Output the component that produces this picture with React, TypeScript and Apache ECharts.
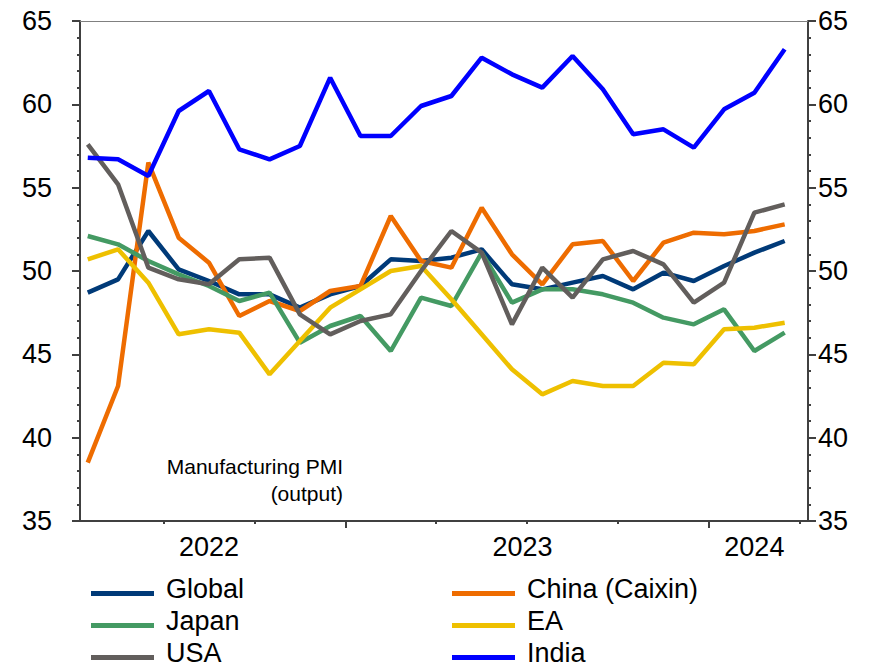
import React, { useEffect, useRef } from "react";
import * as echarts from "echarts";

// Months Apr 2022 .. Mar 2024
const months = [
  "Apr-22", "May-22", "Jun-22", "Jul-22", "Aug-22", "Sep-22", "Oct-22", "Nov-22", "Dec-22",
  "Jan-23", "Feb-23", "Mar-23", "Apr-23", "May-23", "Jun-23", "Jul-23", "Aug-23", "Sep-23",
  "Oct-23", "Nov-23", "Dec-23", "Jan-24", "Feb-24", "Mar-24",
];

const globalPMI = [48.7, 49.5, 52.4, 50.1, 49.4, 48.6, 48.6, 47.8, 48.6, 49.1, 50.7, 50.6, 50.8, 51.3, 49.2, 48.9, 49.3, 49.7, 48.9, 49.9, 49.4, 50.3, 51.1, 51.8];
const chinaPMI = [38.5, 43.1, 56.5, 52.0, 50.5, 47.3, 48.2, 47.6, 48.8, 49.1, 53.3, 50.6, 50.2, 53.8, 51.0, 49.2, 51.6, 51.8, 49.4, 51.7, 52.3, 52.2, 52.4, 52.8];
const japanPMI = [52.1, 51.6, 50.6, 49.8, 49.1, 48.2, 48.7, 45.7, 46.7, 47.3, 45.2, 48.4, 47.9, 51.1, 48.1, 48.9, 48.9, 48.6, 48.1, 47.2, 46.8, 47.7, 45.2, 46.3];
const eaPMI = [50.7, 51.3, 49.3, 46.2, 46.5, 46.3, 43.8, 45.8, 47.8, 48.9, 50.0, 50.3, 48.3, 46.2, 44.1, 42.6, 43.4, 43.1, 43.1, 44.5, 44.4, 46.5, 46.6, 46.9];
const usaPMI = [57.6, 55.2, 50.2, 49.5, 49.2, 50.7, 50.8, 47.4, 46.2, 47.0, 47.4, 50.0, 52.4, 51.1, 46.8, 50.2, 48.4, 50.7, 51.2, 50.4, 48.1, 49.3, 53.5, 54.0];
const indiaPMI = [56.8, 56.7, 55.7, 59.6, 60.8, 57.3, 56.7, 57.5, 61.6, 58.1, 58.1, 59.9, 60.5, 62.8, 61.8, 61.0, 62.9, 60.9, 58.2, 58.5, 57.4, 59.7, 60.7, 63.3];

const seriesNames = ["Global", "China (Caixin)", "Japan", "EA", "USA", "India"];
const seriesColors = ["#003a78", "#ee6c00", "#449a63", "#eec000", "#625e5c", "#0000ff"];
const seriesValues = [globalPMI, chinaPMI, japanPMI, eaPMI, usaPMI, indiaPMI];

// x axis: months counted from start of Apr 2022; tick marks at quarter boundaries
const quarterTicks = [3, 6, 12, 15, 18, 24];
const yearTicks = [9, 21];
const yearLabelPos = [4.5, 14.85, 22.5];
const yearLabels = ["2022", "2023", "2024"];

const yTickMin = 35;
const yTickMax = 65;
const yTickStep = 5;

const annotationLines = ["Manufacturing PMI", "(output)"];

const FONT = "'Liberation Sans', Arial, sans-serif";
const AXIS_COLOR = "#404040";

// legend swatch: a bar drawn 5px below the text middle (tiny invisible anchor at top-left)
const LEGEND_ICON = "path://M0,0 L0.01,0 L0.01,0.01 Z M0,10 L63,10 L63,15 L0,15 Z";

export default function App() {
  const ref = useRef<HTMLDivElement>(null);

  useEffect(() => {
    if (!ref.current) return;
    const chart = echarts.init(ref.current, undefined, { renderer: "svg" });
    const X_MIN = 0.244;
    const X_MAX = 24.27;

    const baseX = {
      type: "value",
      min: X_MIN,
      max: X_MAX,
      splitLine: { show: false },
    };

    const yAxisBase = (pos: string, margin: number) => ({
      type: "value",
      position: pos,
      min: yTickMin,
      max: yTickMax,
      interval: yTickStep,
      axisLine: { show: true, onZero: false, lineStyle: { color: AXIS_COLOR, width: 2 } },
      axisTick: { show: true, length: 8, lineStyle: { color: AXIS_COLOR, width: 2 } },
      minorTick: { show: true, splitNumber: 5, length: 3, lineStyle: { color: AXIS_COLOR, width: 2 } },
      axisLabel: { fontSize: 27, color: "#000", fontFamily: FONT, margin },
      splitLine: { show: false },
      minorSplitLine: { show: false },
    });

    // legend: two columns, three rows (swatch centre y given)
    const legendCols = [91, 452];
    const legendRows = [595, 627, 659];
    const legends = seriesNames.map((name, s) => ({
      data: [name],
      orient: "horizontal",
      left: legendCols[s % 2],
      top: legendRows[Math.floor(s / 2)] - 20,
      padding: 0,
      itemWidth: 63,
      itemHeight: 15,
      icon: LEGEND_ICON,
      itemStyle: { borderWidth: 0 },
      textStyle: { fontSize: 27, color: "#000", fontFamily: FONT, padding: [0, 0, 0, 7] },
    }));

    const option: any = {
      animation: false,
      grid: { left: 80, right: 67, top: 21, bottom: 146, containLabel: false },
      xAxis: [
        {
          ...baseX,
          position: "bottom",
          axisLine: { show: true, onZero: false, lineStyle: { color: AXIS_COLOR, width: 2 } },
          axisTick: { show: true, customValues: quarterTicks, length: 3, lineStyle: { color: AXIS_COLOR, width: 2 } },
          axisLabel: {
            show: true,
            customValues: yearLabelPos,
            fontSize: 27,
            color: "#000",
            fontFamily: FONT,
            margin: 12,
            formatter: (v: number) => {
              let best = 0;
              yearLabelPos.forEach((p, i) => {
                if (Math.abs(p - v) < Math.abs(yearLabelPos[best] - v)) best = i;
              });
              return yearLabels[best];
            },
          },
        },
        {
          ...baseX,
          position: "bottom",
          axisLine: { show: false },
          axisTick: { show: true, customValues: yearTicks, length: 7, lineStyle: { color: AXIS_COLOR, width: 2 } },
          axisLabel: { show: false },
        },
        {
          ...baseX,
          position: "top",
          axisLine: { show: true, onZero: false, lineStyle: { color: "#808080", width: 1 } },
          axisTick: { show: false },
          axisLabel: { show: false },
        },
      ],
      yAxis: [yAxisBase("left", 28), yAxisBase("right", 10)],
      legend: legends,
      graphic: [
        {
          type: "text",
          x: 343,
          y: 466,
          style: { text: annotationLines[0], align: "right", verticalAlign: "middle", fontSize: 21, fontFamily: FONT, fill: "#000" },
        },
        {
          type: "text",
          x: 343,
          y: 493,
          style: { text: annotationLines[1], align: "right", verticalAlign: "middle", fontSize: 21, fontFamily: FONT, fill: "#000" },
        },
      ],
      series: seriesNames.map((name, s) => ({
        name,
        type: "line",
        xAxisIndex: 0,
        yAxisIndex: 0,
        symbol: "none",
        color: seriesColors[s],
        lineStyle: { width: 4.5, color: seriesColors[s] },
        data: seriesValues[s].map((v, i) => [i + 0.5, v]),
      })),
    };
    chart.setOption(option);
    return () => chart.dispose();
  }, []);

  return (
    <div
      ref={ref}
      style={{ position: "fixed", left: 0, top: 0, width: 875, height: 667, background: "#fff" }}
      data-months={months.length}
    />
  );
}
